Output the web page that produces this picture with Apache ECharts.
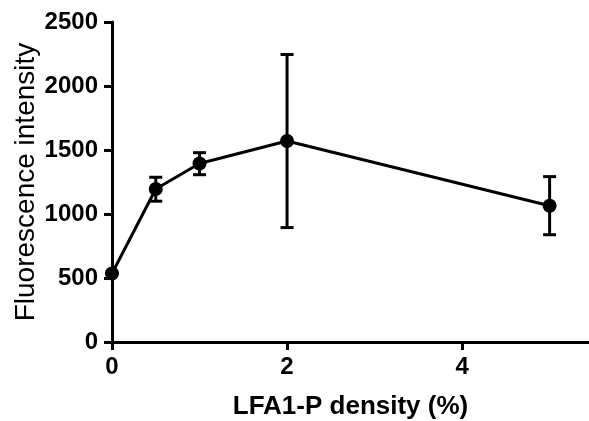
<html>
<head>
<meta charset="utf-8">
<script src="https://cdn.jsdelivr.net/npm/echarts@6/dist/echarts.min.js"></script>
<style>
  html, body { margin: 0; padding: 0; background: #fff; }
  #main { width: 589px; height: 421px; }
</style>
</head>
<body>
<div id="main"></div>
<script>
var density = [0, 0.5, 1, 2, 5];
var intensity = [535, 1195, 1395, 1570, 1065];
var errLow = [535, 1100, 1307, 894, 838];
var errHigh = [535, 1287, 1479, 2246, 1292];
var xTicks = [0, 2, 4];

var chart = echarts.init(document.getElementById('main'));

var points = density.map(function (x, i) { return [x, intensity[i]]; });
var bars = density.map(function (x, i) { return [x, errLow[i], errHigh[i]]; });

var font = 'Liberation Sans, Arial, sans-serif';

chart.setOption({
    animation: false,
    grid: { left: 112, top: 22, right: 0, bottom: 79, outerBoundsMode: 'none' },
    xAxis: {
        type: 'value',
        min: 0,
        max: 5.45,
        interval: 2,
        name: 'LFA1-P density (%)',
        nameLocation: 'middle',
        nameGap: 52,
        nameMoveOverlap: false,
        nameTextStyle: { fontFamily: font, fontWeight: 'bold', fontSize: 26, color: '#000' },
        axisLine: { lineStyle: { color: '#000', width: 3 } },
        axisTick: { length: 8, lineStyle: { color: '#000', width: 3 }, customValues: xTicks },
        axisLabel: { margin: 13, fontFamily: font, fontWeight: 'bold', fontSize: 24, color: '#000', customValues: xTicks },
        splitLine: { show: false }
    },
    yAxis: {
        type: 'value',
        min: 0,
        max: 2500,
        interval: 500,
        name: 'Fluorescence intensity',
        nameLocation: 'middle',
        nameGap: 72,
        nameMoveOverlap: false,
        nameTextStyle: { fontFamily: font, fontSize: 28, color: '#000' },
        axisLine: { show: true, lineStyle: { color: '#000', width: 3 } },
        axisTick: { show: true, length: 8, lineStyle: { color: '#000', width: 3 } },
        axisLabel: {
            margin: 14, fontFamily: font, fontWeight: 'bold', fontSize: 24, color: '#000',
            formatter: function (v) { return String(v); }
        },
        splitLine: { show: false }
    },
    series: [
        {
            type: 'custom',
            data: bars,
            z: 3,
            renderItem: function (params, api) {
                var lo = api.coord([api.value(0), api.value(1)]);
                var hi = api.coord([api.value(0), api.value(2)]);
                var hw = 6.5;
                var st = { stroke: '#000', lineWidth: 3, fill: null };
                return {
                    type: 'group',
                    children: [
                        { type: 'line', shape: { x1: lo[0], y1: lo[1], x2: hi[0], y2: hi[1] }, style: st },
                        { type: 'line', shape: { x1: lo[0] - hw, y1: lo[1], x2: lo[0] + hw, y2: lo[1] }, style: st },
                        { type: 'line', shape: { x1: hi[0] - hw, y1: hi[1], x2: hi[0] + hw, y2: hi[1] }, style: st }
                    ]
                };
            }
        },
        {
            type: 'line',
            data: points,
            z: 4,
            symbol: 'circle',
            symbolSize: 14,
            itemStyle: { color: '#000' },
            lineStyle: { color: '#000', width: 3 }
        }
    ]
});
</script>
</body>
</html>
